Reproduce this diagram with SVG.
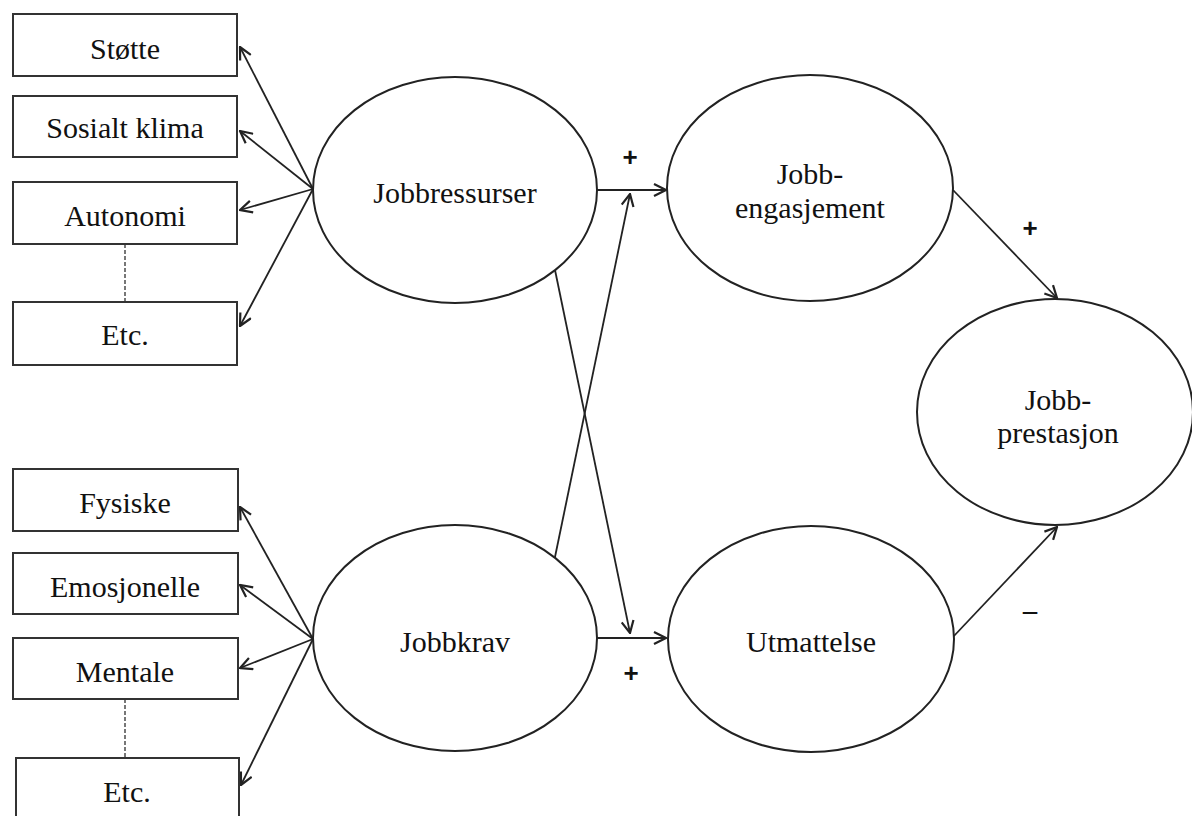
<svg xmlns="http://www.w3.org/2000/svg" width="1192" height="816" viewBox="0 0 1192 816">
<style>
.box{fill:#fff;stroke:#333;stroke-width:2}
.ell{fill:#fff;stroke:#222;stroke-width:2}
.t{font-family:"Liberation Serif","Times New Roman",serif;font-size:30px;fill:#111;text-anchor:middle}
.s{font-family:"Liberation Sans",Arial,sans-serif;font-size:26px;font-weight:bold;fill:#111;text-anchor:middle}
.m{font-family:"Liberation Sans",Arial,sans-serif;font-size:30px;fill:#111;text-anchor:middle}
.c{stroke:#222;stroke-width:1.8;fill:none;marker-end:url(#ah)}
.d{stroke:#777;stroke-width:2;stroke-dasharray:4,2;fill:none}
</style>
<defs>
<marker id="ah" viewBox="0 0 14 14" refX="13" refY="7" markerWidth="14" markerHeight="14" markerUnits="userSpaceOnUse" orient="auto">
<path d="M1,1 L13,7 L1,13" fill="none" stroke="#222" stroke-width="2.2"/>
</marker>
</defs>
<rect width="1192" height="816" fill="#fff"/>
<g id="connectors">
<line class="d" x1="125" y1="244" x2="125" y2="302"/>
<line class="d" x1="125" y1="699" x2="125" y2="758"/>
<line class="c" x1="313" y1="189" x2="240" y2="47"/>
<line class="c" x1="313" y1="189" x2="240" y2="131"/>
<line class="c" x1="313" y1="189" x2="240" y2="210"/>
<line class="c" x1="313" y1="189" x2="240" y2="326"/>
<line class="c" x1="313" y1="639" x2="240" y2="507"/>
<line class="c" x1="313" y1="639" x2="240" y2="585"/>
<line class="c" x1="313" y1="639" x2="240" y2="668"/>
<line class="c" x1="313" y1="639" x2="241" y2="785"/>
<line class="c" x1="597" y1="190" x2="666" y2="190"/>
<line class="c" x1="597" y1="638" x2="666" y2="638"/>
<line class="c" x1="555" y1="270" x2="630" y2="633"/>
<line class="c" x1="555" y1="557" x2="630" y2="194"/>
<line class="c" x1="953" y1="190" x2="1057" y2="298"/>
<line class="c" x1="953" y1="637" x2="1057" y2="527"/>
<text class="s" x="630" y="166">+</text>
<text class="s" x="631" y="682">+</text>
<text class="s" x="1030" y="237">+</text>
<text class="m" x="1030" y="623">−</text>
</g>
<g id="n-stotte"><rect class="box" x="13" y="14" width="224" height="62"/><text class="t" x="125" y="59">Støtte</text></g>
<g id="n-sosialt"><rect class="box" x="13" y="96" width="224" height="61"/><text class="t" x="125" y="138">Sosialt klima</text></g>
<g id="n-autonomi"><rect class="box" x="13" y="182" width="224" height="62"/><text class="t" x="125" y="226">Autonomi</text></g>
<g id="n-etc1"><rect class="box" x="13" y="302" width="224" height="63"/><text class="t" x="125" y="345">Etc.</text></g>
<g id="n-fysiske"><rect class="box" x="13" y="469" width="225" height="62"/><text class="t" x="125" y="513">Fysiske</text></g>
<g id="n-emosjonelle"><rect class="box" x="13" y="553" width="225" height="61"/><text class="t" x="125" y="597">Emosjonelle</text></g>
<g id="n-mentale"><rect class="box" x="13" y="638" width="225" height="61"/><text class="t" x="125" y="682">Mentale</text></g>
<g id="n-etc2"><rect class="box" x="16" y="758" width="223" height="70"/><text class="t" x="127" y="802">Etc.</text></g>
<g id="n-jobbressurser"><ellipse class="ell" cx="455" cy="190" rx="142" ry="113"/><text class="t" x="455" y="203">Jobbressurser</text></g>
<g id="n-jobbkrav"><ellipse class="ell" cx="455" cy="638" rx="142" ry="113"/><text class="t" x="455" y="652">Jobbkrav</text></g>
<g id="n-engasjement"><ellipse class="ell" cx="810" cy="188" rx="143" ry="113"/><text class="t" x="810" y="184">Jobb-</text><text class="t" x="810" y="218">engasjement</text></g>
<g id="n-utmattelse"><ellipse class="ell" cx="811" cy="639" rx="143" ry="113"/><text class="t" x="811" y="652">Utmattelse</text></g>
<g id="n-prestasjon"><ellipse class="ell" cx="1055" cy="412" rx="138" ry="113"/><text class="t" x="1058" y="410">Jobb-</text><text class="t" x="1058" y="443">prestasjon</text></g>
</svg>
